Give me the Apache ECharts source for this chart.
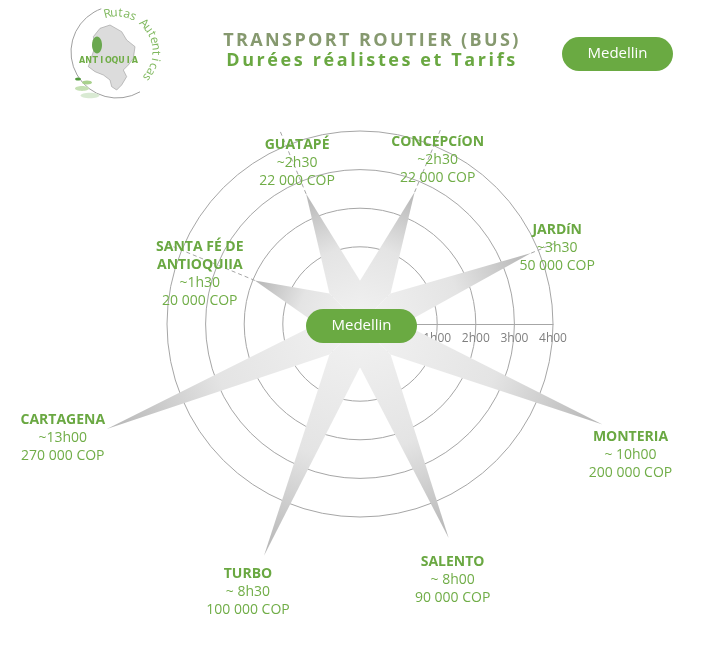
<!DOCTYPE html>
<html>
<head>
<meta charset="utf-8">
<script src="https://cdn.jsdelivr.net/npm/echarts@6/dist/echarts.min.js"></script>
<style>
html, body { margin: 0; padding: 0; background: #fff; }
#chart { width: 710px; height: 650px; }
</style>
</head>
<body>
<div id="chart"></div>
<script>
// destinations, clockwise from the hour axis (pointing right)
var places = ['MONTERIA', 'SALENTO', 'TURBO', 'CARTAGENA', 'SANTA FÉ DE\nANTIOQUIIA', 'GUATAPÉ', 'CONCEPCíON', 'JARDíN'];
var durations = ['~ 10h00', '~ 8h00', '~ 8h30', '~13h00', '~1h30', '~2h30', '~2h30', '~3h30'];
var prices = ['200 000 COP', '90 000 COP', '100 000 COP', '270 000 COP', '20 000 COP', '22 000 COP', '22 000 COP', '50 000 COP'];
// length of each spike on the hour axis, as drawn (long trips are shortened)
var reach = [5.8, 5.0, 5.5, 6.1, 1.95, 2.65, 2.7, 3.8];
var hourTicks = ['', '1h00', '2h00', '3h00', '4h00'];

var green = '#70AD47';
var notch = 0.12;      // where two spikes meet
var leaderEnd = 4.45;  // dashed leader runs out to here
// label shift from the spike tip, px
var labelShift = [[28, 31], [4, 42], [-16, 36], [-44, 9], [-55, -6], [-9, -31], [23, -32], [26, -5]];

// title lines are letter-spaced in the original
var spaced = { 'TRANSPORT ROUTIER (BUS)': '2.4px', 'Durées réalistes et Tarifs': '2.6px' };
var baseFillText = CanvasRenderingContext2D.prototype.fillText;
CanvasRenderingContext2D.prototype.fillText = function (t, x, y, w) {
  if (spaced[t] && 'letterSpacing' in this) {
    this.save();
    this.letterSpacing = spaced[t];
    baseFillText.apply(this, arguments);
    this.restore();
    return;
  }
  return baseFillText.apply(this, arguments);
};

var chart = echarts.init(document.getElementById('chart'));

function renderSpike(params, api) {
  var i = params.dataIndex;
  var cs = params.coordSys;
  var cx = cs.cx, cy = cs.cy;
  var tip = api.coord([api.value(0), api.value(1)]);
  var np = api.coord([notch, api.value(1)]);
  var nr = Math.sqrt((np[0] - cx) * (np[0] - cx) + (np[1] - cy) * (np[1] - cy));
  var a = Math.atan2(tip[1] - cy, tip[0] - cx);
  var half = Math.PI / places.length;
  var l = [cx + nr * Math.cos(a - half), cy + nr * Math.sin(a - half)];
  var r = [cx + nr * Math.cos(a + half), cy + nr * Math.sin(a + half)];
  var children = [{
    type: 'polygon',
    shape: { points: [[cx, cy], l, tip, r] },
    style: {
      fill: new echarts.graphic.LinearGradient(cx, cy, tip[0], tip[1], [
        { offset: 0, color: '#f2f2f2' },
        { offset: 0.55, color: '#e4e4e4' },
        { offset: 1, color: '#b5b5b5' }
      ], true)
    }
  }];
  if (api.value(0) < leaderEnd) {
    var end = api.coord([leaderEnd, api.value(1)]);
    children.push({
      type: 'line',
      shape: { x1: tip[0], y1: tip[1], x2: end[0], y2: end[1] },
      style: { stroke: '#a6a6a6', lineWidth: 1, lineDash: [4, 3] }
    });
  }
  children.push({
    type: 'text',
    x: tip[0] + labelShift[i][0],
    y: tip[1] + labelShift[i][1],
    style: {
      text: '{n|' + places[i].split('\n').join('}\n{n|') + '}\n{d|' + durations[i] + '}\n{d|' + prices[i] + '}',
      align: 'center',
      verticalAlign: 'middle',
      rich: {
        n: { fontFamily: 'Open Sans', fontWeight: 'bold', fontSize: 14, lineHeight: 18, fill: '#6aa842' },
        d: { fontFamily: 'Open Sans', fontSize: 14, lineHeight: 18, fill: green }
      }
    }
  });
  return { type: 'group', children: children };
}

function pill(x, y) {
  return [
    { type: 'rect', z: 100, shape: { x: x, y: y, width: 111, height: 34, r: 17 }, style: { fill: '#6aaa42' } },
    { type: 'text', z: 101, x: x + 55.5, y: y + 17, style: { text: 'Medellin', fontFamily: 'Open Sans', fontSize: 15, fill: '#fff', align: 'center', verticalAlign: 'middle' } }
  ];
}

// logo pieces
var logo = [];
logo.push({
  type: 'arc', shape: { cx: 117, cy: 52, r: 46, startAngle: 60 * Math.PI / 180, endAngle: 250 * Math.PI / 180 },
  style: { stroke: '#a0a0a0', lineWidth: 1, fill: null }
});
var mapPts = [[135,85],[165,75],[200,95],[215,120],[240,140],[235,175],[220,195],[205,210],[215,230],[200,255],[185,270],[170,260],[165,240],[145,225],[120,215],[100,200],[110,170],[120,140],[115,110]];
logo.push({
  type: 'polygon',
  shape: { points: mapPts.map(function (p) { return [p[0] / 3 + 55, p[1] / 3]; }) },
  style: { fill: '#dcdcdc', stroke: '#9a9a9a', lineWidth: 0.6 }
});
logo.push({ type: 'ellipse', shape: { cx: 97, cy: 45, rx: 5, ry: 8.5 }, style: { fill: '#6aa84f' } });
logo.push({ type: 'ellipse', shape: { cx: 78, cy: 79, rx: 3, ry: 1.6 }, style: { fill: '#4f9a3a' } });
logo.push({ type: 'ellipse', shape: { cx: 87, cy: 82.5, rx: 5, ry: 2 }, style: { fill: '#a9d18e' } });
logo.push({ type: 'ellipse', shape: { cx: 82, cy: 88.5, rx: 7, ry: 2.4 }, style: { fill: '#c5e0b4' } });
logo.push({ type: 'ellipse', shape: { cx: 90, cy: 95.5, rx: 9.5, ry: 2.8 }, style: { fill: '#d9ead3' } });
var ant = 'ANTIOQUIA';
for (var k = 0; k < ant.length; k++) {
  logo.push({
    type: 'text', x: 82 + k * 6.6, y: 61,
    style: { text: ant[k], fontFamily: 'DejaVu Sans', fontWeight: 'bold', fontSize: 8, fill: green, align: 'center', verticalAlign: 'middle' }
  });
}
var rutas = 'Rutas Autenticas';
for (var k = 0; k < rutas.length; k++) {
  var ang = (-104 + k * 9.6) * Math.PI / 180;
  logo.push({
    type: 'text', x: 117 + 39 * Math.cos(ang), y: 52 + 39 * Math.sin(ang), rotation: -(ang + Math.PI / 2),
    style: { text: rutas[k], fontFamily: 'Open Sans', fontSize: 12, fill: '#7fb85e', align: 'center', verticalAlign: 'middle' }
  });
}

var option = {
  backgroundColor: '#fff',
  polar: { center: [360, 324], radius: [38.6, 193] },
  angleAxis: {
    type: 'category',
    data: places,
    startAngle: 0,
    clockwise: true,
    boundaryGap: true,
    axisLine: { show: false },
    axisTick: { show: false },
    axisLabel: { show: false },
    splitLine: { show: false }
  },
  radiusAxis: {
    type: 'value',
    min: 0,
    max: 4,
    interval: 1,
    axisLine: { lineStyle: { color: '#a6a6a6', width: 1 } },
    axisTick: { show: false },
    axisLabel: {
      formatter: function (v) { return hourTicks[v]; },
      color: '#7f7f7f',
      fontFamily: 'Open Sans',
      fontSize: 12,
      margin: -9,
      verticalAlign: 'top'
    },
    splitLine: { show: true, lineStyle: { color: '#a6a6a6', width: 1 } }
  },
  series: [{
    type: 'custom',
    coordinateSystem: 'polar',
    renderItem: renderSpike,
    data: reach.map(function (v, i) { return [v, i]; }),
    silent: true
  }],
  graphic: [
    {
      type: 'text', x: 372, y: 41, z: 100,
      style: {
        text: 'TRANSPORT ROUTIER (BUS)', fontFamily: 'Open Sans', fontWeight: 'bold', fontSize: 18,
        fill: '#86996f', align: 'center', verticalAlign: 'middle'
      }
    },
    {
      type: 'text', x: 372, y: 61, z: 100,
      style: {
        text: 'Durées réalistes et Tarifs', fontFamily: 'Open Sans', fontWeight: 'bold', fontSize: 18,
        fill: '#6aa842', align: 'center', verticalAlign: 'middle'
      }
    }
  ].concat(pill(562, 37), pill(306, 309), [{ type: 'group', children: logo }])
};
chart.setOption(option);
</script>
</body>
</html>
